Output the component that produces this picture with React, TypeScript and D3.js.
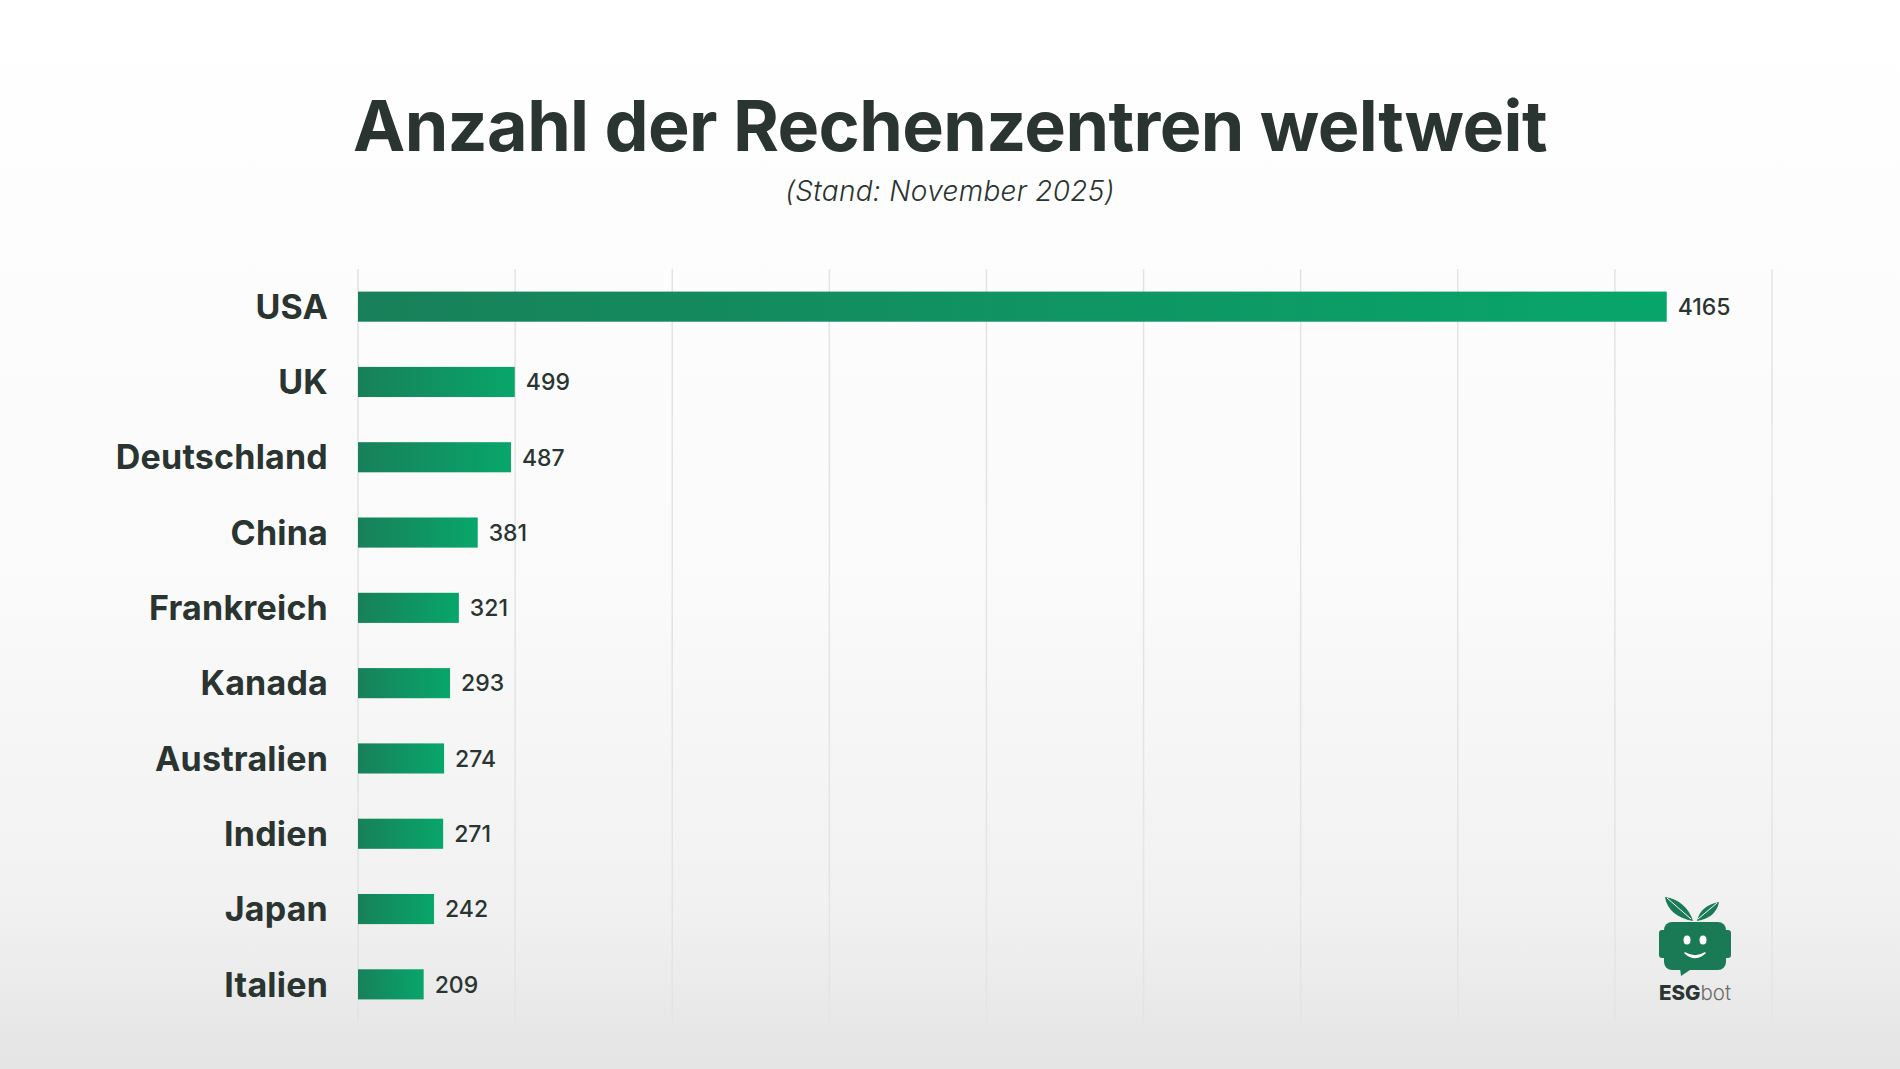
import React from 'react';
import * as d3 from 'd3';

const countries = ['USA', 'UK', 'Deutschland', 'China', 'Frankreich', 'Kanada', 'Australien', 'Indien', 'Japan', 'Italien'];
const dataCenters = [4165, 499, 487, 381, 321, 293, 274, 271, 242, 209];
const xTicks = [0, 500, 1000, 1500, 2000, 2500, 3000, 3500, 4000, 4500];

const W = 1900;
const H = 1069;
const margin = { top: 269, right: 128, bottom: 47, left: 358 };
const ink = '#2a3430';
const font = 'Inter, "Open Sans", "DejaVu Sans", sans-serif';

const App: React.FC = () => {
  const x = d3.scaleLinear().domain([0, 4500]).range([margin.left, W - margin.right]);
  const y = d3.scaleBand<string>()
    .domain(countries)
    .range([margin.top, H - margin.bottom])
    .paddingInner(0.6)
    .paddingOuter(0.3);

  const rows = countries.map((c, i) => ({ country: c, value: dataCenters[i] }));

  return (
    <>
      <style>{'body{margin:0}'}</style>
      <svg width={W} height={H} style={{ display: 'block' }} fontFamily={font}>
        <defs>
          <linearGradient id="bg" x1="0" y1="0" x2="0" y2="1">
            <stop offset="0" stopColor="#ffffff" />
            <stop offset="0.55" stopColor="#fafafa" />
            <stop offset="0.85" stopColor="#f1f1f1" />
            <stop offset="1" stopColor="#e4e4e4" />
          </linearGradient>
          <linearGradient id="bar" x1="0" y1="0" x2="1" y2="0">
            <stop offset="0" stopColor="#18805a" />
            <stop offset="1" stopColor="#08a66b" />
          </linearGradient>
        </defs>

        <rect width={W} height={H} fill="url(#bg)" />

        {/* title */}
        <text x={W / 2} y={151} textAnchor="middle" fontSize={70} fontWeight={700} fill={ink} letterSpacing={-0.6}>
          Anzahl der Rechenzentren weltweit
        </text>
        <text x={W / 2} y={201} textAnchor="middle" fontSize={28} fontStyle="italic" fontWeight={300} fill={ink} letterSpacing={0.3}>
          (Stand: November 2025)
        </text>

        {/* gridlines */}
        {xTicks.map(t => (
          <line key={t} x1={x(t)} x2={x(t)} y1={margin.top} y2={H - margin.bottom}
            stroke={t === 0 ? '#dde4e3' : '#e4e4e4'} strokeWidth={1.5} />
        ))}

        {/* bars */}
        {rows.map(d => {
          const yy = y(d.country) as number;
          const bw = y.bandwidth();
          return (
            <g key={d.country}>
              <rect x={x(0)} y={yy} width={x(d.value) - x(0)} height={bw} fill="url(#bar)" />
              <text x={x(0) - 30} y={yy + bw / 2} dy="0.36em" textAnchor="end"
                fontSize={34} fontWeight={700} fill={ink} letterSpacing={0.2}>{d.country}</text>
              <text x={x(d.value) + 11} y={yy + bw / 2} dy="0.36em"
                fontSize={23} fontWeight={500} fill={ink}>{d.value}</text>
            </g>
          );
        })}

        {/* logo */}
        <g transform="translate(1695,0)">
          <path d="M-2,921 C-6,908 -16,899 -30,897 C-28,910 -18,918 -2,921 Z" fill="#1a7a55" />
          <path d="M2,921 C4,911 12,904 24,902 C22,913 14,919 2,921 Z" fill="#1a7a55" />
          <path d="M-28,898 L-4,919" stroke="#fafafa" strokeWidth={1} />
          <path d="M22,903 L3,919" stroke="#fafafa" strokeWidth={1} />
          <rect x={-31} y={922} width={62} height={48} rx={8} fill="#1a7a55" />
          <rect x={-36} y={930} width={8} height={28} rx={3} fill="#1a7a55" />
          <rect x={28} y={930} width={8} height={28} rx={3} fill="#1a7a55" />
          <path d="M-15,968 L-14,976 L-2,968 Z" fill="#1a7a55" />
          <ellipse cx={-8} cy={940} rx={3.5} ry={4.5} fill="#ffffff" />
          <ellipse cx={8} cy={940} rx={3.5} ry={4.5} fill="#ffffff" />
          <path d="M-10,953 Q0,959 10,953 Q0,962 -10,953 Z" fill="#ffffff" stroke="#ffffff" strokeWidth={1.5} strokeLinejoin="round" />
          <text x={0} y={1000} textAnchor="middle" fontSize={20.5}>
            <tspan fontWeight={800} fill="#2a3430">ESG</tspan>
            <tspan fontWeight={300} fill="#6a6a6a">bot</tspan>
          </text>
        </g>
      </svg>
    </>
  );
};

export default App;
